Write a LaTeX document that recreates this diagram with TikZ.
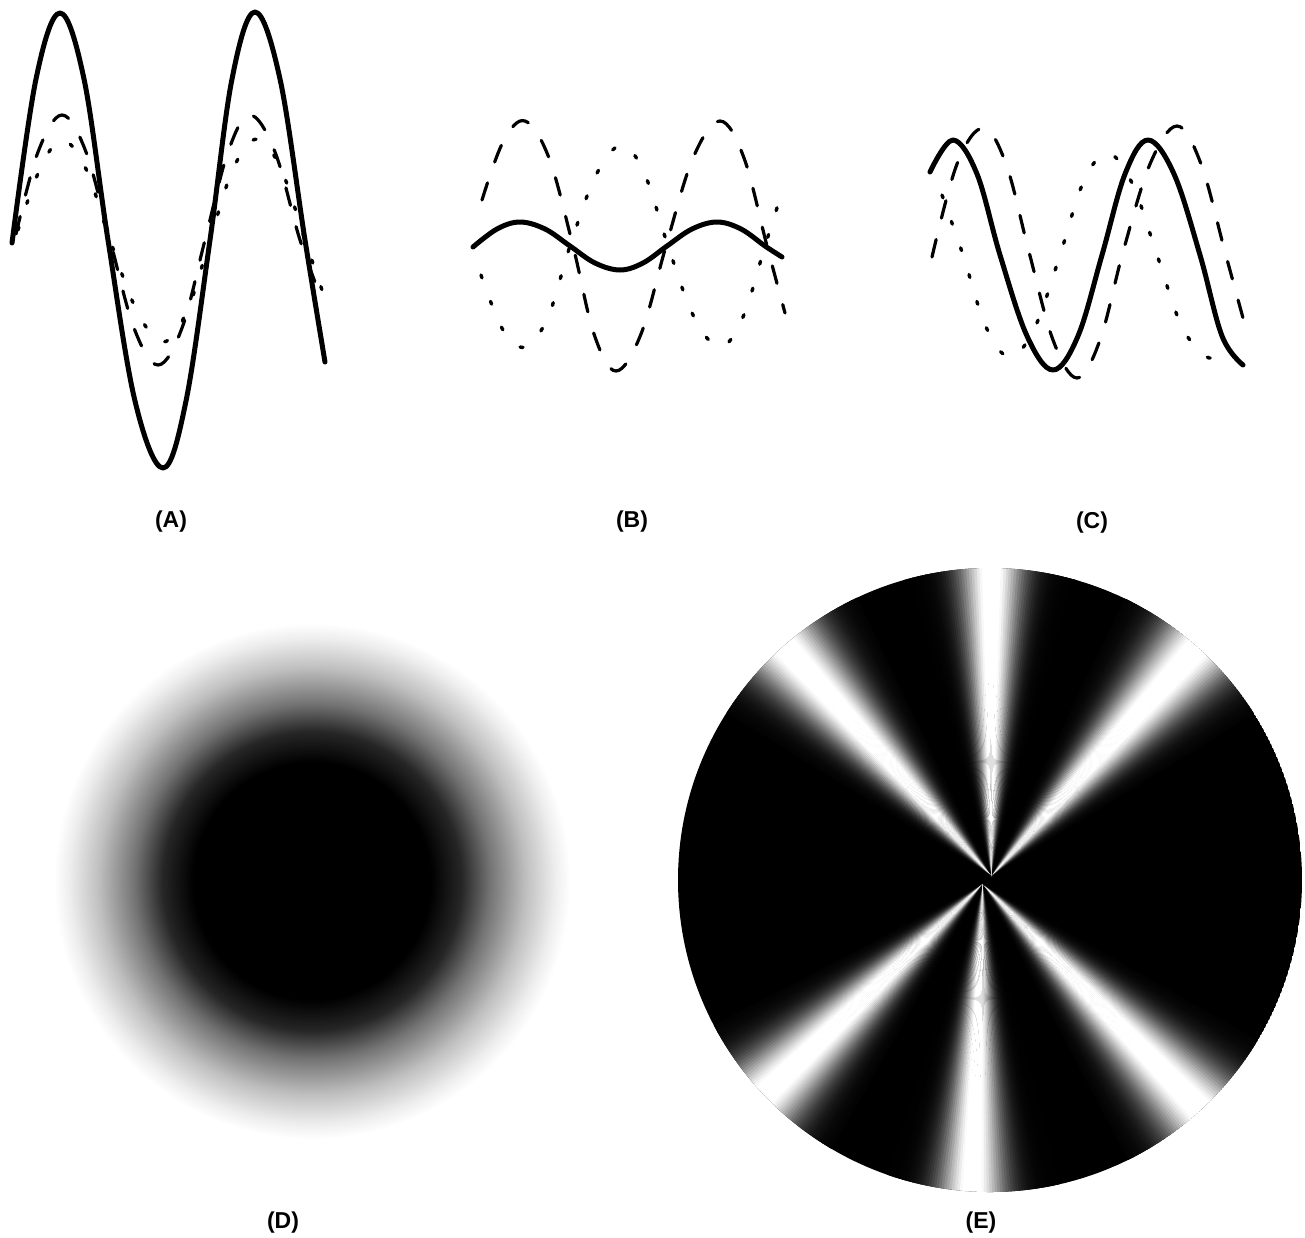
\documentclass[tikz,border=0pt]{standalone}
\usepackage{fontspec}
\setmainfont{Liberation Sans}
\pgfdeclareradialshading{dblob}{\pgfpoint{0bp}{0bp}}{color(0bp)=(black); color(11.5bp)=(black); color(14.5bp)=(black!85); color(17.2bp)=(black!55); color(20.7bp)=(black!25); color(23.5bp)=(black!7); color(25bp)=(white); color(50bp)=(white)}
\begin{document}
\begin{tikzpicture}[x=1pt,y=-1pt,
  solidw/.style={line width=5pt, line join=round, line cap=round},
  dashw/.style={line width=3.2pt, dash pattern=on 18pt off 22pt, line cap=round},
  dotw/.style={line width=3.4pt, dash pattern=on 3pt off 25pt, line cap=round},
  curve/.style={smooth, tension=0.6},
  lab/.style={font=\fontsize{23}{25}\selectfont\bfseries, inner sep=0pt}]
\useasboundingbox (0,0) rectangle (1305,1237);
\fill[white] (0,0) rectangle (1305,1237);

% ---------- Panel A ----------
\draw[solidw] plot[curve] coordinates {(12,243) (36,79) (60,13) (84,79) (108,240) (135,401) (163,468) (186,401) (210,240) (232,79) (255,12) (280,79) (305,240) (325,362)};
\draw[dashw] plot[curve] coordinates {(16,234) (38,152) (62,115) (86,152) (110,240) (134,328) (158,365) (182,328) (205,240) (228,152) (250,115) (275,152) (300,240) (322,300)};
\draw[dotw] plot[curve] coordinates {(18,230) (40,169) (62,140) (86,169) (110,240) (137,311) (163,342) (187,311) (210,240) (233,169) (257,139) (281,169) (305,240) (322,290)};

% ---------- Panel B ----------
\draw[dashw] plot[curve] coordinates {(482,200) (503,142) (525,121) (549,158) (573,246) (594,334) (616,371) (641,334) (666,246) (693,158) (720,121) (744,158) (767,246) (785,313)};
\draw[dotw] plot[curve] coordinates {(481,275) (503,330) (525,347) (548,317) (570,246) (596,175) (622,145) (645,175) (668,246) (694,317) (720,347) (743,317) (765,246) (782,192)};
\draw[solidw] plot[curve] coordinates {(473,247) (497,229) (520,222) (545,229) (570,246) (595,263) (620,270) (643,263) (667,246) (692,229) (717,222) (741,229) (765,246) (782,257)};

% ---------- Panel C ----------
\draw[dashw] plot[curve] coordinates {(932,257) (957,164) (983,128) (1006,164) (1029,252) (1053,340) (1077,378) (1100,340) (1123,252) (1150,164) (1177,126) (1201,164) (1225,252) (1243,318)};
\draw[dotw] plot[curve] coordinates {(942,195) (963,255) (986,327) (1010,357) (1035,327) (1060,255) (1083,183) (1107,153) (1132,183) (1157,255) (1182,327) (1207,357) (1216,352)};
\draw[solidw] plot[curve] coordinates {(930,172) (953,140) (977,174) (1000,255) (1027,336) (1053,370) (1078,336) (1102,255) (1125,174) (1148,140) (1174,174) (1200,255) (1222,336) (1243,365)};

% ---------- Panel D ----------
\shade[shading=dblob] (312,881) circle[radius=258pt];

% ---------- Panel E ----------
\begin{scope}
  \clip (990,880) circle[radius=312pt];
  \fill[black] (990,880) circle[radius=312pt];
  \foreach \a/\s/\ax/\ay in {48/7.5/991/876, 90/6/991/876, 132/7.5/991/876, 224/7.5/983/884, 268/6.3/983/884, 314/7.5/983/884} {
    \foreach \d in {-16,-15.5,...,16} {
      \pgfmathsetmacro\g{100*(1-min(1,1.08*exp(-(\d*\d)/(\s*\s))))}
      \pgfmathsetmacro\aa{\a+\d-0.32}
      \pgfmathsetmacro\ab{\a+\d+0.32}
      \fill[black!\g] (\ax,\ay) -- +(\aa:340pt) -- +(\ab:340pt) -- cycle;
    }
  }
\end{scope}

% ---------- Labels ----------
\node[lab] (lA) at (171,522) {(A)};
\node[lab] (lB) at (632,522) {(B)};
\node[lab] (lC) at (1092,523) {(C)};
\node[lab] (lD) at (283,1223) {(D)};
\node[lab] (lE) at (981,1223) {(E)};
\end{tikzpicture}
\end{document}
